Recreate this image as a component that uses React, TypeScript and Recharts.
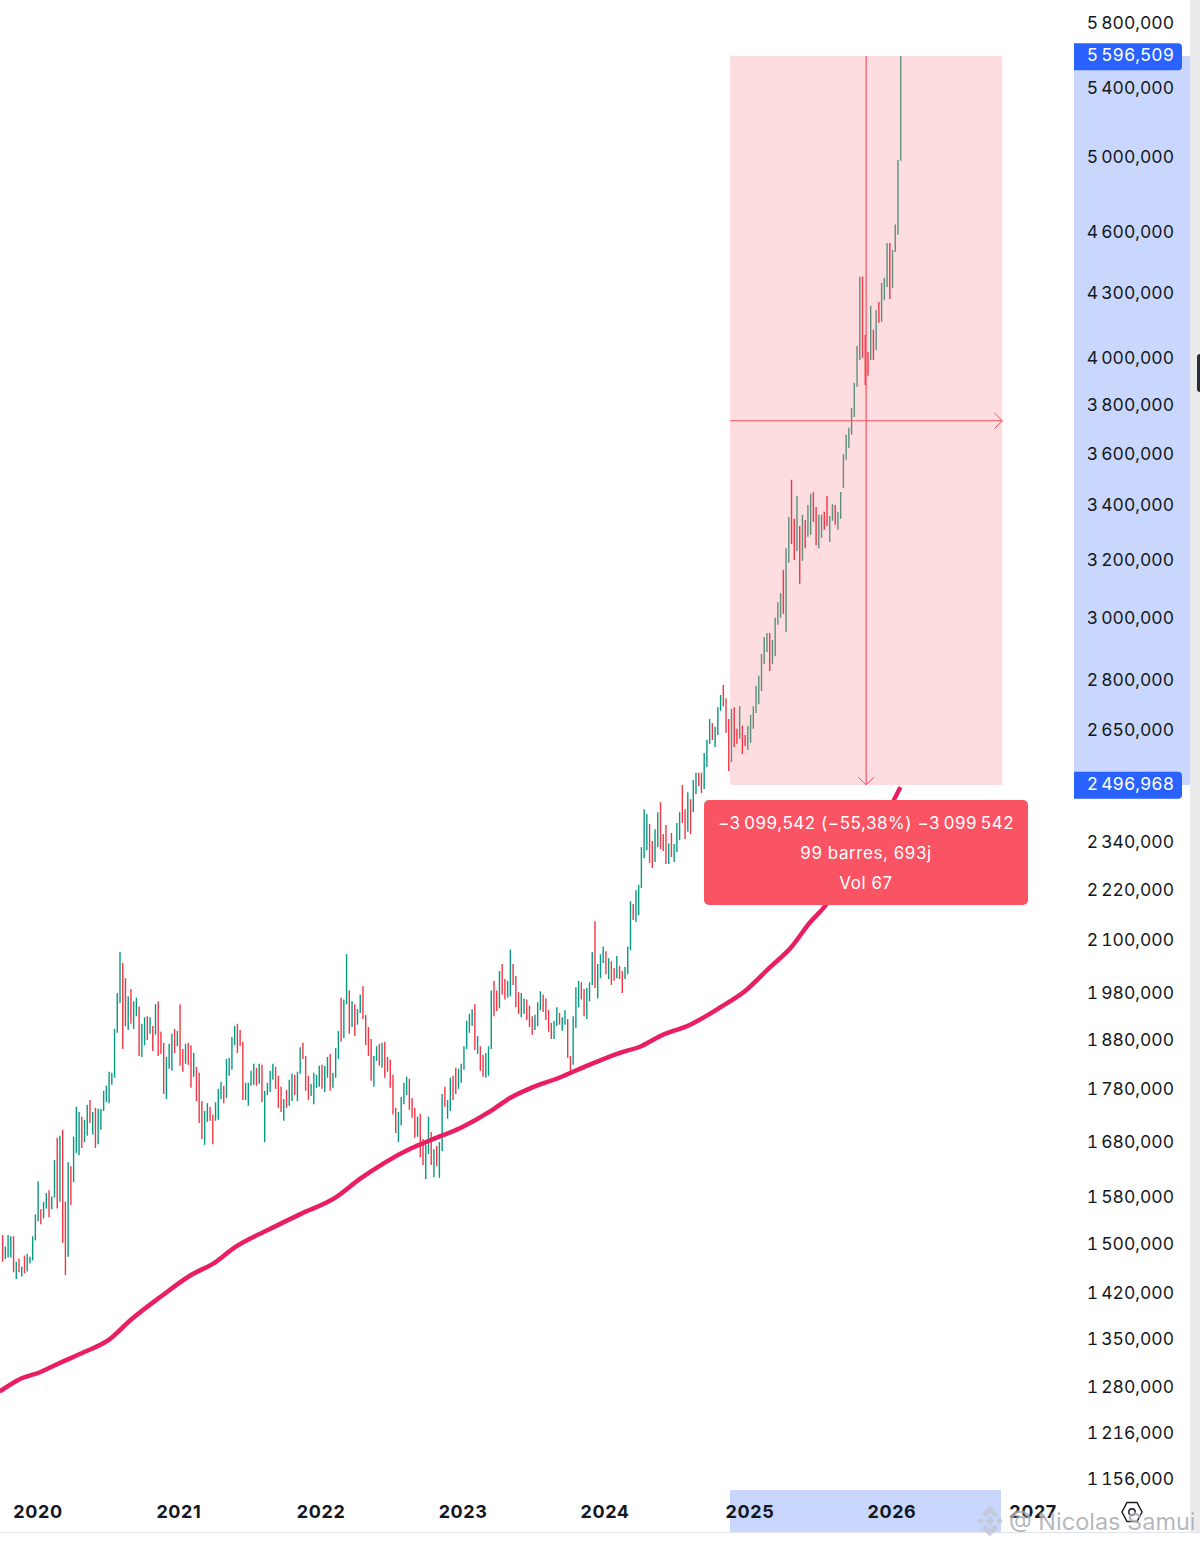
import {
  ComposedChart,
  Bar,
  Line,
  Cell,
  XAxis,
  YAxis,
  ReferenceArea,
  ReferenceLine,
  ReferenceDot,
} from 'recharts';

// weekly bars, thousands
const barHighs = [
  1513, 1494, 1513, 1511, 1511, 1469, 1474, 1461, 1479, 1482,
  1477, 1511, 1548, 1606, 1557, 1570, 1585, 1590, 1579, 1644,
  1685, 1689, 1700, 1570, 1640, 1633, 1687, 1744, 1734, 1725,
  1719, 1748, 1757, 1734, 1742, 1740, 1740, 1775, 1785, 1813,
  1811, 1901, 1978, 2070, 2045, 2011, 1971, 1987, 1960, 1968,
  1949, 1912, 1926, 1928, 1926, 1907, 1954, 1960, 1895, 1872,
  1843, 1870, 1891, 1901, 1897, 1954, 1859, 1870, 1872, 1867,
  1851, 1823, 1811, 1755, 1736, 1751, 1744, 1729, 1753, 1779,
  1793, 1785, 1839, 1841, 1884, 1907, 1912, 1899, 1874, 1791,
  1791, 1815, 1829, 1821, 1829, 1827, 1775, 1791, 1815, 1829,
  1823, 1805, 1783, 1759, 1777, 1797, 1809, 1807, 1813, 1863,
  1872, 1845, 1805, 1789, 1811, 1807, 1825, 1827, 1825, 1843,
  1849, 1811, 1861, 1897, 1968, 1964, 2065, 1984, 1960, 1954,
  1943, 1975, 1993, 1931, 1905, 1880, 1845, 1865, 1870, 1872,
  1874, 1843, 1837, 1807, 1742, 1734, 1763, 1791, 1803, 1799,
  1761, 1742, 1725, 1730, 1683, 1673, 1725, 1696, 1664, 1670,
  1677, 1769, 1783, 1757, 1801, 1805, 1821, 1819, 1829, 1865,
  1918, 1933, 1943, 1954, 1886, 1865, 1847, 1851, 1865, 1984,
  2005, 1984, 2027, 2043, 2009, 2005, 2076, 2043, 2016, 1980,
  1978, 1966, 1964, 1951, 1928, 1931, 1958, 1982, 1975, 1966,
  1941, 1914, 1918, 1947, 1935, 1926, 1941, 1922, 1845, 1928,
  1991, 2005, 2002, 1987, 1989, 2002, 2070, 2142, 2043, 2065,
  2083, 2072, 2056, 2049, 2034, 2061, 2038, 2027, 2036, 2083,
  2190, 2183, 2217, 2230, 2325, 2425, 2412, 2386, 2341, 2372,
  2417, 2444, 2359, 2383, 2335, 2362, 2333, 2388, 2417, 2491,
  2425, 2471, 2452, 2505, 2525, 2525, 2525, 2581, 2618, 2680,
  2668, 2657, 2715, 2752, 2783, 2742, 2680, 2710, 2715, 2651,
  2718, 2660, 2633, 2660, 2692, 2718, 2780, 2811, 2880, 2935,
  2948, 2948, 2925, 2998, 3050, 3081, 3161, 3238, 3352, 3493,
  3345, 3431, 3319, 3360, 3341, 3397, 3439, 3446, 3389, 3360,
  3360, 3371, 3431, 3356, 3400, 3397, 3371, 3446, 3594, 3672,
  3700, 3782, 3889, 4051, 4374, 4374, 4102, 4024, 4235, 4125,
  4216, 4253, 4345, 4369, 4541, 4541, 4505, 4634, 4979, 5586,
];

const barLows = [
  1469, 1473, 1476, 1476, 1452, 1441, 1452, 1445, 1450, 1453,
  1466, 1471, 1504, 1536, 1531, 1541, 1558, 1543, 1557, 1577,
  1558, 1570, 1500, 1447, 1477, 1564, 1604, 1657, 1653, 1666,
  1677, 1689, 1713, 1691, 1666, 1673, 1700, 1736, 1753, 1751,
  1787, 1801, 1893, 1956, 1859, 1907, 1899, 1912, 1901, 1928,
  1845, 1843, 1867, 1878, 1891, 1855, 1889, 1845, 1849, 1769,
  1759, 1819, 1815, 1851, 1865, 1825, 1813, 1829, 1827, 1781,
  1803, 1755, 1713, 1683, 1672, 1715, 1717, 1673, 1717, 1719,
  1759, 1751, 1761, 1805, 1817, 1867, 1851, 1865, 1757, 1757,
  1746, 1785, 1787, 1785, 1789, 1753, 1677, 1767, 1773, 1797,
  1779, 1742, 1734, 1717, 1742, 1746, 1755, 1767, 1755, 1809,
  1839, 1775, 1757, 1765, 1749, 1781, 1783, 1779, 1773, 1801,
  1775, 1781, 1801, 1839, 1874, 1882, 1954, 1891, 1905, 1886,
  1910, 1935, 1922, 1867, 1845, 1795, 1783, 1835, 1825, 1821,
  1801, 1813, 1781, 1729, 1694, 1677, 1708, 1749, 1767, 1738,
  1723, 1685, 1687, 1649, 1635, 1610, 1655, 1635, 1613, 1633,
  1612, 1660, 1744, 1721, 1736, 1757, 1769, 1779, 1791, 1817,
  1859, 1893, 1907, 1857, 1849, 1815, 1803, 1801, 1805, 1859,
  1928, 1939, 1945, 1975, 1964, 1968, 1971, 1996, 1947, 1933,
  1926, 1933, 1920, 1905, 1889, 1899, 1907, 1941, 1937, 1920,
  1895, 1880, 1880, 1907, 1910, 1897, 1910, 1841, 1807, 1827,
  1903, 1947, 1964, 1928, 1922, 1960, 1996, 1989, 1966, 2011,
  2045, 2020, 2009, 1996, 2005, 2011, 2009, 1978, 2009, 2020,
  2074, 2145, 2140, 2157, 2222, 2297, 2317, 2285, 2272, 2287,
  2325, 2320, 2315, 2282, 2282, 2300, 2287, 2312, 2343, 2388,
  2346, 2365, 2359, 2417, 2466, 2488, 2469, 2480, 2541, 2607,
  2618, 2598, 2633, 2704, 2718, 2639, 2530, 2555, 2598, 2607,
  2622, 2578, 2601, 2589, 2610, 2651, 2698, 2724, 2764, 2848,
  2886, 2826, 2848, 2873, 2975, 2998, 3011, 2951, 3186, 3253,
  3196, 3227, 3113, 3193, 3238, 3279, 3286, 3334, 3249, 3238,
  3275, 3305, 3319, 3260, 3338, 3323, 3305, 3345, 3462, 3571,
  3618, 3672, 3745, 3872, 3989, 3998, 3880, 3920, 3989, 3989,
  4033, 4157, 4161, 4262, 4325, 4267, 4320, 4495, 4582, 4973,
];

// g = up week, r = down week
const barDirections = [
  'rgggrgrgrg', 'ggggrggrgg', 'rgrrgrgggr', 'ggrgrggggg', 'ggggrrgrgg',
  'rggrgrgrrr', 'gggrgrrgrr', 'grrrggrrgg', 'grggggrrrg', 'gggrgrgggg',
  'rrrgrggrgg', 'rrrggggrgg', 'rgggrggrgr', 'ggrrrrggrg', 'rrrrrggggr',
  'rrgrrggrgr', 'ggrggrrggg', 'gggrgrrggg', 'rrgrrggrrr', 'ggrrrgggrr',
  'rrggrggrrg', 'ggrrgggrgg', 'grgrrgrrgg', 'grgggggrrg', 'grrrgrgggr',
  'rgrggrrggg', 'rgggrrrgrr', 'grrggggggg', 'grggggrggr', 'rgrgrggrrg',
  'grrggrgggg', 'gggggrrrgr', 'grgggrgggg',
].join('');

// moving average, read at selected weeks
const emaWeeks = [
  -1, 6, 14, 21, 30, 39, 47, 58, 69, 78, 85, 98, 109, 122, 131, 140, 150, 157, 168, 179,
  186, 193, 204, 215, 226, 234, 241, 252, 263, 272, 281, 289, 296, 301, 310, 319, 326, 329,
];
const emaValues = [
  1272, 1289, 1300, 1313, 1329, 1347, 1377, 1413, 1447, 1468, 1492, 1523, 1548, 1577, 1610, 1639, 1666, 1681, 1704, 1736,
  1761, 1779, 1801, 1827, 1851, 1865, 1886, 1910, 1947, 1982, 2034, 2081, 2140, 2175, 2267, 2364, 2441, 2485,
];

const priceTicks = [
  5800000, 5596509, 5400000, 5000000, 4600000, 4300000, 4000000, 3800000, 3600000, 3400000,
  3200000, 3000000, 2800000, 2650000, 2496968, 2340000, 2220000, 2100000, 1980000, 1880000,
  1780000, 1680000, 1580000, 1500000, 1420000, 1350000, 1280000, 1216000, 1156000,
];
const tagTicks = [5596509, 2496968];

const yearLabels = ['2020', '2021', '2022', '2023', '2024', '2025', '2026', '2027'];
const yearWeeks = [13.1, 64.7, 116.8, 168.8, 220.8, 273.9, 325.9, 377.6];

const measureTop = 5586000;
const measureBottom = 2491000;
const measureMid = 3729000;
const measureStart = 266.6;
const measureEnd = 366.3;
const measureCenter = 316.45;

const GREEN = '#089981';
const GREEN_MUTED = '#5D8F7D'; // up bars seen through the measure box
const RED = '#F23645';
const MEASURE = '#F9525F';
const BAND = '#C9D7FE';
const FONT = 'Inter, sans-serif';

const rows = [-1, ...barHighs.keys()].map((i) => {
  const emaAt = emaWeeks.indexOf(i);
  return {
    week: i,
    range: i < 0 ? null : [barLows[i] * 1000, barHighs[i] * 1000],
    up: barDirections[i] === 'g',
    ema: emaAt >= 0 ? emaValues[emaAt] * 1000 : null,
  };
});

const barFill = (row: { week: number; up: boolean }) => {
  if (!row.up) return RED;
  return row.week > measureStart ? GREEN_MUTED : GREEN;
};

const formatPrice = (v: number) => {
  const s = String(v);
  return `${s.slice(0, 1)}\u2009${s.slice(1, 4)},${s.slice(4)}`;
};

function PriceTick({ x, y, payload }: any) {
  const tagged = tagTicks.includes(payload.value);
  return (
    <g>
      {tagged && (
        <path
          d={`M${x - 8} ${y - 11}H${x + 96}a4 4 0 0 1 4 4V${y + 12}a4 4 0 0 1 -4 4H${x - 8}Z`}
          fill="#2962FF"
        />
      )}
      <text
        x={x + 92}
        y={y + 7}
        textAnchor="end"
        fontFamily={FONT}
        fontSize={17.5}
        fill={tagged ? '#FFFFFF' : '#131722'}
        style={{ fontVariantNumeric: 'tabular-nums' }}
      >
        {formatPrice(payload.value)}
      </text>
    </g>
  );
}

function YearTick({ x, payload }: any) {
  return (
    <text
      x={x}
      y={1518}
      textAnchor="middle"
      fontFamily={FONT}
      fontSize={18}
      fontWeight={700}
      letterSpacing={0.6}
      fill="#131722"
    >
      {yearLabels[yearWeeks.indexOf(payload.value)]}
    </text>
  );
}

const ArrowRight = ({ cx, cy }: any) => (
  <path d={`M${cx - 8} ${cy - 8}L${cx} ${cy}L${cx - 8} ${cy + 8}`} fill="none" stroke={MEASURE} strokeWidth={1} />
);
const ArrowDown = ({ cx, cy }: any) => (
  <path d={`M${cx - 8} ${cy - 8}L${cx} ${cy}L${cx + 8} ${cy - 8}`} fill="none" stroke={MEASURE} strokeWidth={1} />
);

export default function App() {
  return (
    <div style={{ position: 'absolute', left: 0, top: 0, width: 1200, height: 1546, background: '#fff', overflow: 'hidden', fontFamily: FONT }}>
      {/* highlighted spans on both axes */}
      <div style={{ position: 'absolute', left: 1074, top: 56, width: 116, height: 729, background: BAND }} />
      <div style={{ position: 'absolute', left: 730, top: 1490, width: 271, height: 42, background: BAND }} />
      <div style={{ position: 'absolute', left: 0, top: 1532, width: 1200, height: 1, background: '#E0E3EB' }} />
      <div style={{ position: 'absolute', left: 1190, top: 0, width: 10, height: 1532, background: '#EBEBEB' }} />
      <div style={{ position: 'absolute', left: 1197, top: 354, width: 6, height: 38, borderRadius: 4, background: '#2A2E39' }} />

      <div style={{ position: 'absolute', left: 0, top: 0 }}>
        <ComposedChart
          width={1190}
          height={1532}
          data={rows}
          margin={{ top: 0, right: 0, bottom: 0, left: 0 }}
        >
          <XAxis
            dataKey="week"
            type="number"
            domain={[-0.84, 392.6]}
            ticks={yearWeeks}
            interval={0}
            tick={<YearTick />}
            tickLine={false}
            axisLine={false}
            height={42}
            allowDataOverflow
          />
          <YAxis
            orientation="right"
            scale="log"
            domain={[1140700, 5943100]}
            ticks={priceTicks}
            interval={0}
            tick={<PriceTick />}
            tickLine={false}
            axisLine={false}
            width={116}
            allowDataOverflow
          />
          <ReferenceArea
            x1={measureStart}
            x2={measureEnd}
            y1={measureBottom}
            y2={measureTop}
            fill={RED}
            fillOpacity={0.17}
            stroke="none"
            ifOverflow="visible"
          />
          <Bar dataKey="range" barSize={1.4} isAnimationActive={false}>
            {rows.map((row) => (
              <Cell key={row.week} fill={barFill(row)} />
            ))}
          </Bar>
          <Line
            dataKey="ema"
            type="monotone"
            connectNulls
            dot={false}
            stroke="#E91E63"
            strokeWidth={4.5}
            isAnimationActive={false}
          />
          <ReferenceLine
            segment={[{ x: measureStart, y: measureMid }, { x: measureEnd, y: measureMid }]}
            stroke={MEASURE}
            strokeWidth={1.2}
          />
          <ReferenceLine
            segment={[{ x: measureCenter, y: measureTop }, { x: measureCenter, y: measureBottom }]}
            stroke={MEASURE}
            strokeWidth={1.2}
          />
          <ReferenceDot x={measureEnd} y={measureMid} shape={<ArrowRight />} ifOverflow="visible" />
          <ReferenceDot x={measureCenter} y={measureBottom} shape={<ArrowDown />} ifOverflow="visible" />
        </ComposedChart>
      </div>

      {/* measure tool label */}
      <div
        style={{
          position: 'absolute',
          left: 704,
          top: 800,
          width: 324,
          height: 105,
          borderRadius: 5,
          background: '#F95364',
          color: '#fff',
          fontSize: 17,
          lineHeight: '30px',
          letterSpacing: 0.55,
          textAlign: 'center',
          paddingTop: 8,
          boxSizing: 'border-box',
        }}
      >
        <div>{'\u22123\u2009099,542 (\u221255,38%) \u22123\u2009099\u2009542'}</div>
        <div>99 barres, 693j</div>
        <div>Vol 67</div>
      </div>

      {/* settings icon */}
      <svg style={{ position: 'absolute', left: 1120, top: 1500 }} width={24} height={24} viewBox="0 0 24 24">
        <path d="M7 2.5H17L22 12L17 21.5H7L2 12Z" fill="none" stroke="#131722" strokeWidth={1.4} />
        <circle cx={12} cy={12} r={3.2} fill="none" stroke="#131722" strokeWidth={1.4} />
      </svg>

      {/* watermark */}
      <svg style={{ position: 'absolute', left: 971, top: 1502 }} width={38} height={38} viewBox="0 0 32 32">
        <path d="M16 3L23 10L20 13L16 9L12 13L9 10ZM5 16L8 13L11 16L8 19ZM21 16L24 13L27 16L24 19ZM16 12L20 16L16 20L12 16ZM16 29L9 22L12 19L16 23L20 19L23 22Z" fill="#C3C8D4" fillOpacity={0.85} />
      </svg>
      <div
        style={{
          position: 'absolute',
          left: 1009,
          top: 1506,
          fontSize: 23.5,
          lineHeight: '32px',
          whiteSpace: 'nowrap',
          color: 'rgba(130,135,145,0.6)',
          textShadow: '0 0 2px #fff',
        }}
      >
        @ Nicolas Samui
      </div>
    </div>
  );
}
